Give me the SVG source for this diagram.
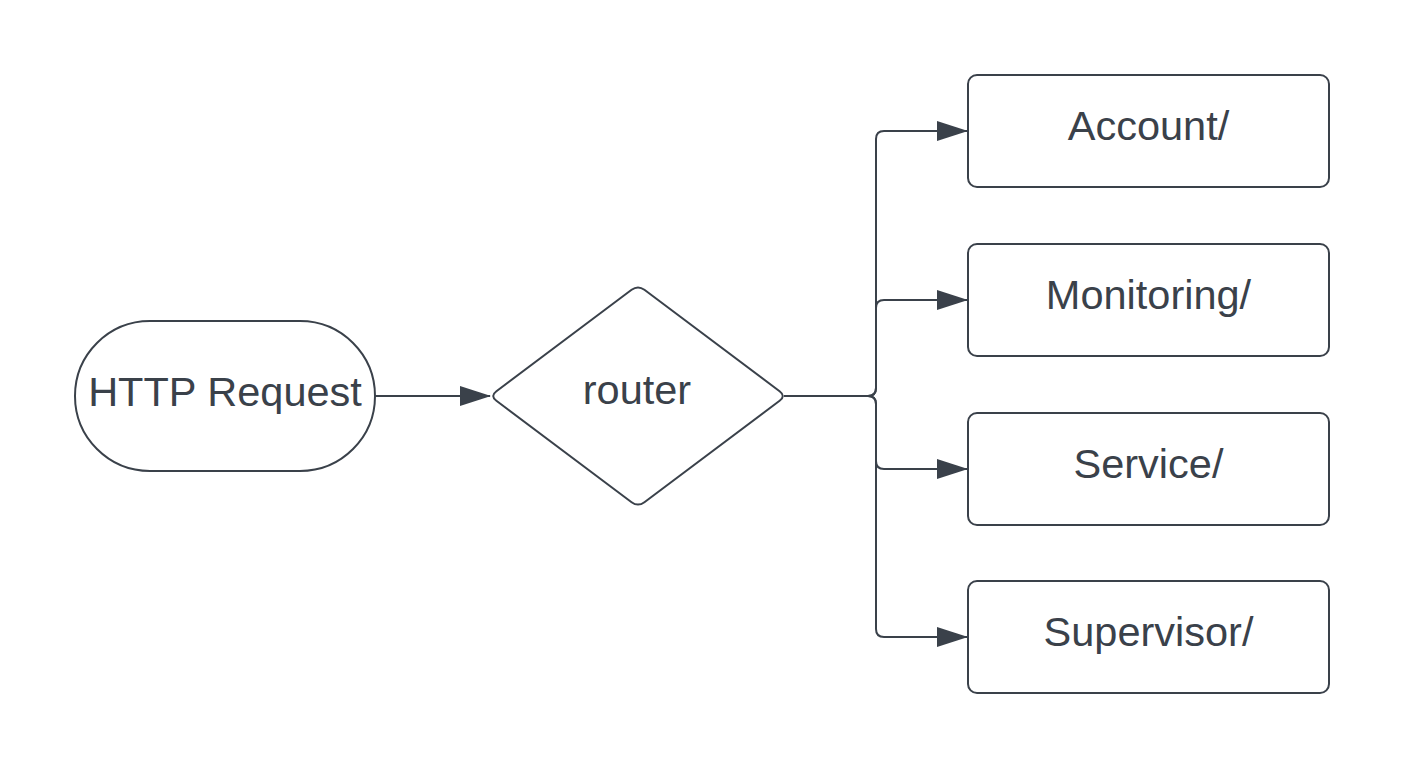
<svg xmlns="http://www.w3.org/2000/svg" width="1404" height="769" viewBox="0 0 1404 769">
<style>
.shape{fill:#ffffff;stroke:#3a414a;stroke-width:2}
.conn{fill:none;stroke:#3a414a;stroke-width:2}
.lbl{font-family:"Liberation Sans",Arial,sans-serif;font-size:41.5px;fill:#3a414a;text-anchor:middle}
</style>
<defs>
<marker id="arrow" markerUnits="userSpaceOnUse" markerWidth="31" markerHeight="20" refX="30" refY="10" orient="auto">
<path d="M0,0 L31,10 L0,20 Z" fill="#3a414a"/>
</marker>
</defs>
<rect width="1404" height="769" fill="#ffffff"/>
<g id="connectors">
<path class="conn" d="M375,396 H490" marker-end="url(#arrow)"/>
<path class="conn" d="M784,396 H868 Q876,396 876,388 V139 Q876,131 884,131 H967" marker-end="url(#arrow)"/>
<path class="conn" d="M784,396 H868 Q876,396 876,388 V308 Q876,300 884,300 H967" marker-end="url(#arrow)"/>
<path class="conn" d="M784,396 H868 Q876,396 876,404 V461 Q876,469 884,469 H967" marker-end="url(#arrow)"/>
<path class="conn" d="M784,396 H868 Q876,396 876,404 V629 Q876,637 884,637 H967" marker-end="url(#arrow)"/>
</g>
<g id="http-request">
<rect class="shape" x="75" y="321" width="300" height="150" rx="75" ry="75"/>
<text class="lbl" x="225" y="405.5">HTTP Request</text>
</g>
<g id="router">
<path class="shape" d="M496.4,391.2 L631.6,289.8 Q638,285 644.4,289.8 L779.6,391.2 Q786,396 779.6,400.8 L644.4,502.2 Q638,507 631.6,502.2 L496.4,400.8 Q490,396 496.4,391.2 Z"/>
<text class="lbl" x="637" y="404">router</text>
</g>
<g id="account">
<rect class="shape" x="968" y="75" width="361" height="112" rx="9" ry="9"/>
<text class="lbl" x="1148.5" y="140">Account/</text>
</g>
<g id="monitoring">
<rect class="shape" x="968" y="244" width="361" height="112" rx="9" ry="9"/>
<text class="lbl" x="1148.5" y="309">Monitoring/</text>
</g>
<g id="service">
<rect class="shape" x="968" y="413" width="361" height="112" rx="9" ry="9"/>
<text class="lbl" x="1148.5" y="478">Service/</text>
</g>
<g id="supervisor">
<rect class="shape" x="968" y="581" width="361" height="112" rx="9" ry="9"/>
<text class="lbl" x="1148.5" y="646">Supervisor/</text>
</g>
</svg>
